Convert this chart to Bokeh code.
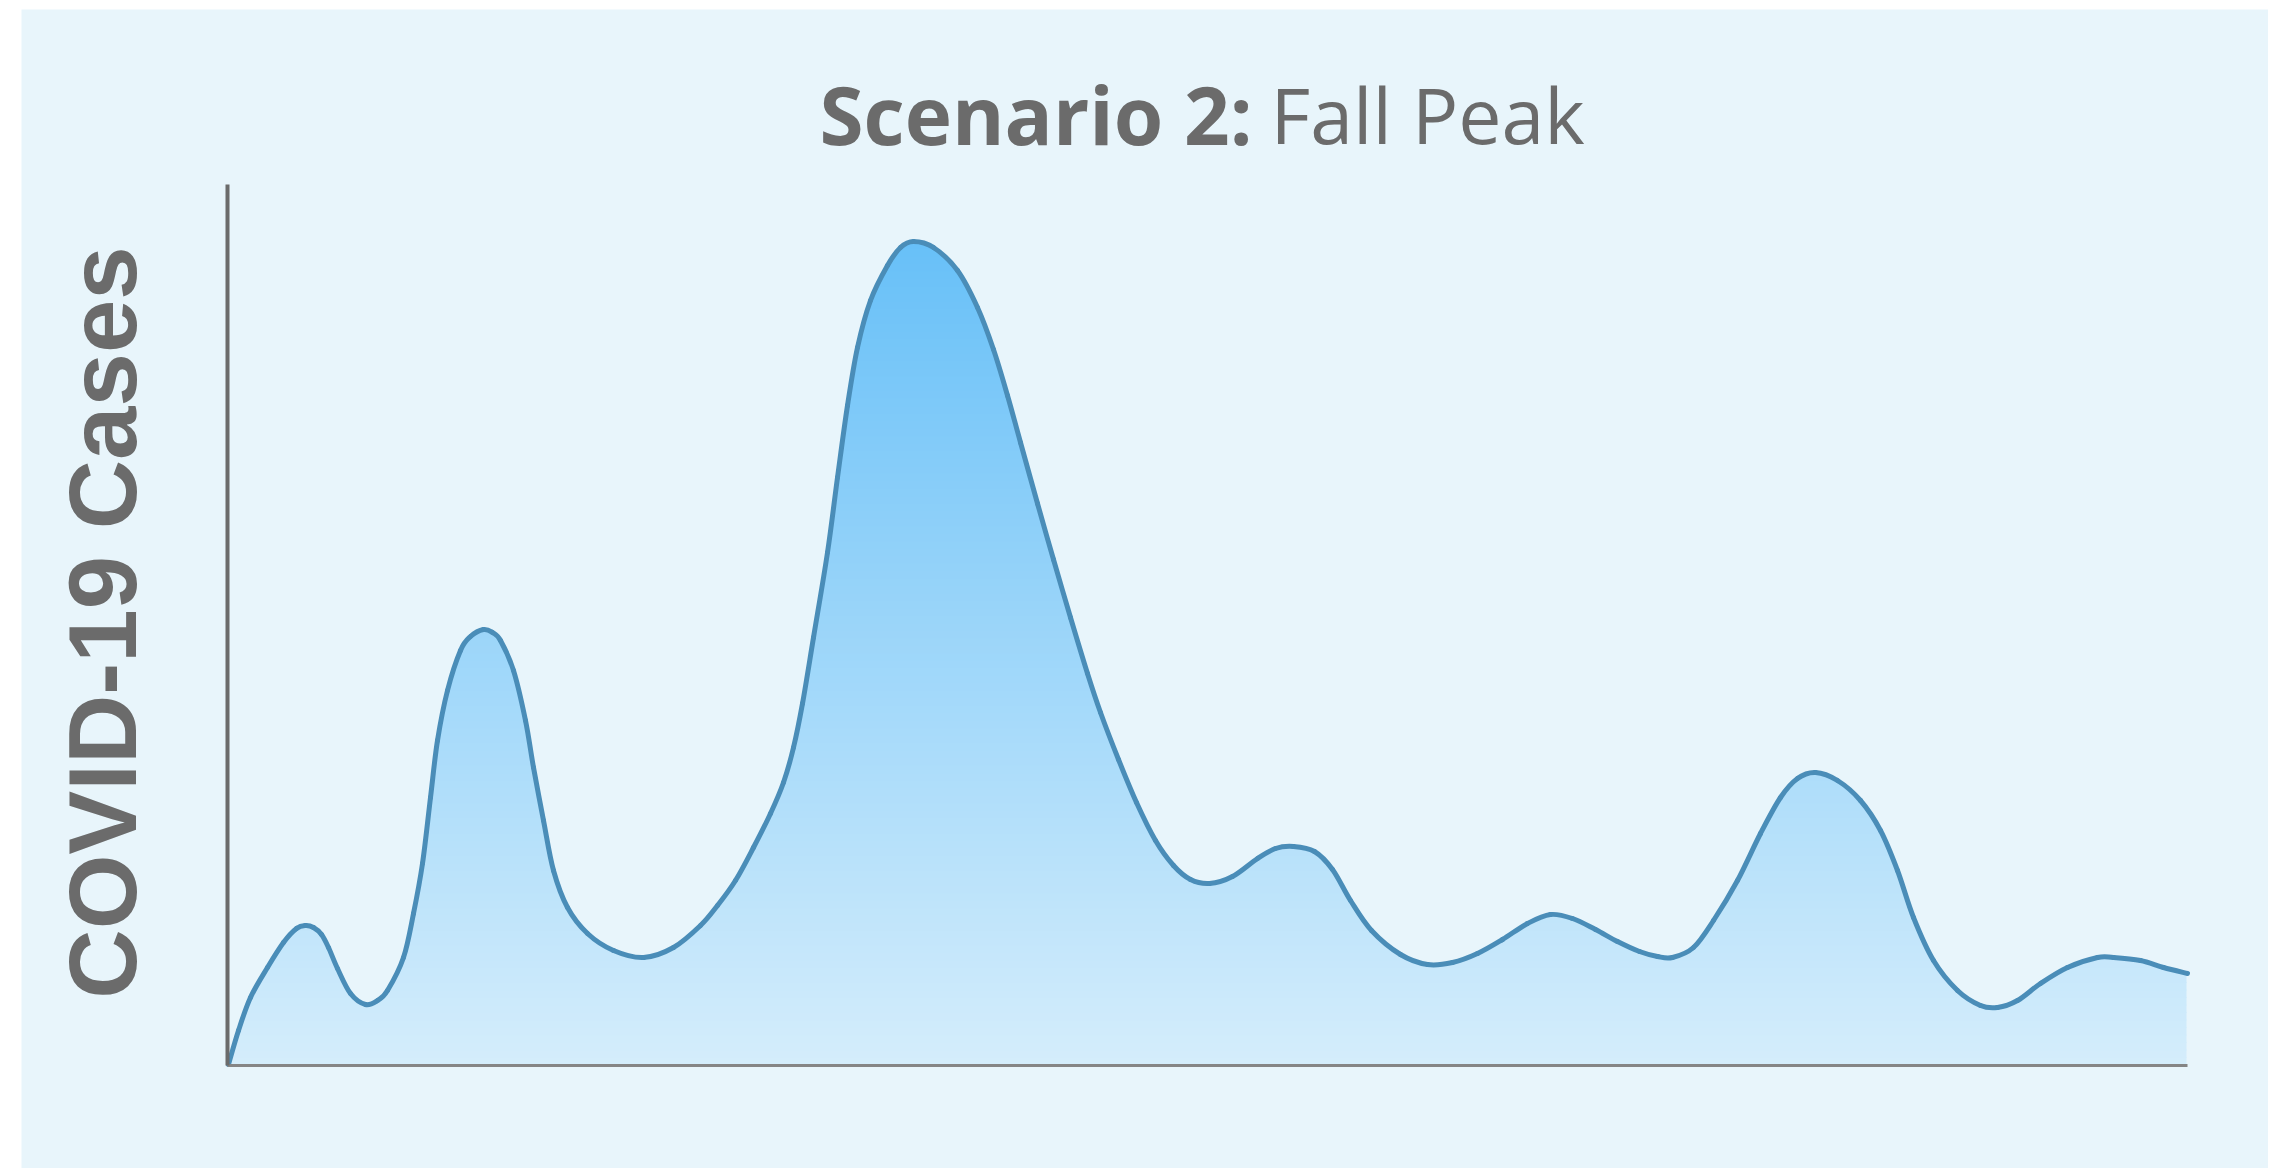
import numpy as np
from bokeh.plotting import figure
from bokeh.models import Range1d, LinearAxis, FixedTicker
from bokeh.core.properties import value
from bokeh.embed import file_html
from bokeh.resources import INLINE

# ---- data (time position, relative case level) ----
weeks = [1, 11, 23, 40, 56, 69, 78, 86, 94, 101, 110, 123, 138, 150, 160, 176,
         186, 195, 203, 210, 220, 233, 243, 256, 265, 273, 286, 298, 306, 316,
         326, 340, 360, 386, 416, 446, 473, 490, 508, 526, 543, 556, 566, 575,
         586, 600, 610, 620, 630, 643, 660, 673, 686, 706, 730, 750, 766, 780,
         793, 810, 826, 843, 860, 873, 891, 909, 928, 946, 963, 982, 1005, 1030,
         1048, 1066, 1087, 1105, 1123, 1144, 1173, 1200, 1225, 1250, 1275, 1300,
         1323, 1345, 1368, 1390, 1412, 1430, 1445, 1466, 1486, 1510, 1533, 1553,
         1570, 1588, 1610, 1633, 1653, 1670, 1686, 1706, 1730, 1753, 1770, 1790,
         1813, 1840, 1870, 1886, 1913, 1936, 1960]
cases = [1, 35, 68, 98, 123, 137, 140, 138, 131, 118, 97, 72, 61, 65, 75, 108,
         152, 202, 268, 325, 375, 415, 429, 436, 433, 425, 395, 345, 298, 245,
         195, 158, 132, 115, 108, 118, 140, 160, 185, 218, 252, 283, 318, 362,
         428, 513, 588, 660, 718, 765, 800, 818, 824, 818, 795, 758, 716, 670,
         623, 562, 506, 448, 392, 353, 306, 263, 225, 200, 186, 182, 189, 207,
         217, 219, 214, 196, 165, 135, 111, 101, 103, 112, 126, 142,
         151, 147, 136, 124, 114, 109, 108, 118, 145, 185, 232, 268,
         287, 293, 285, 265, 235, 195, 148, 105, 75, 60, 58, 65,
         82, 98, 108, 108, 105, 98, 92]

title_bold = "Scenario 2:"
title_regular = "Fall Peak"
y_label = "COVID-19 Cases"

# axis extents (time span, case scale top)
X_END = 1960
Y_END = 881

# ---- styling ----
BG = "#e8f5fb"
GREY = "#6b6b6b"
LINE = "#4a8db8"
TOP_RGB = np.array([104, 192, 248])
BOT_RGB = np.array([212, 237, 251])

FW, FH = 2247, 1159
p = figure(frame_width=FW, frame_height=FH, output_backend="svg", toolbar_location=None,
           x_range=Range1d(-206, FW - 206), y_range=Range1d(-(FH - 1056), 1056),
           x_axis_location=None, y_axis_location=None,
           min_border_left=0, min_border_right=0, min_border_top=0, min_border_bottom=0)
p.margin = (9, 0, 0, 21)
p.background_fill_color = BG
p.border_fill_color = BG
p.outline_line_color = None
p.grid.visible = False

yax = LinearAxis(fixed_location=0, bounds=(0, Y_END), ticker=FixedTicker(ticks=[]))
xax = LinearAxis(fixed_location=0, bounds=(0, X_END), ticker=FixedTicker(ticks=[]))
for ax in (xax, yax):
    ax.major_tick_line_color = None
    ax.minor_tick_line_color = None
    ax.major_tick_out = 0
    ax.major_tick_in = 0
    ax.minor_tick_out = 0
    ax.minor_tick_in = 0
    ax.major_label_standoff = 0
yax.axis_line_color = GREY
yax.axis_line_width = 4
xax.axis_line_color = "#858585"
xax.axis_line_width = 3
p.add_layout(yax, "left")
p.add_layout(xax, "below")

# vertical gradient under the curve: horizontal bands, then mask above the curve
peak = max(cases)
n = 110
levels = np.linspace(0, peak, n + 1)
t = (levels[:-1] + levels[1:]) / 2 / peak
cols = ["#%02x%02x%02x" % tuple(int(round(v)) for v in (BOT_RGB + (TOP_RGB - BOT_RGB) * f)) for f in t]
tops = levels[1:].copy()
tops[:-1] += 1.0  # small overlap so the bands leave no seams
p.quad(left=min(weeks), right=max(weeks) - 1, bottom=levels[:-1], top=tops,
       fill_color=cols, line_color=None)
p.varea(x=weeks, y1=cases, y2=Y_END, fill_color=BG)

# smooth stroke through the read points (Catmull-Rom -> cubic Bezier control points)
X = np.array(weeks, dtype=float)
Y = np.array(cases, dtype=float)
Xp = np.concatenate([[X[0]], X, [X[-1]]])
Yp = np.concatenate([[Y[0]], Y, [Y[-1]]])
x0, y0 = X[:-1], Y[:-1]
x1, y1 = X[1:], Y[1:]
cx0 = x0 + (Xp[2:-1] - Xp[:-3]) / 6.0
cy0 = y0 + (Yp[2:-1] - Yp[:-3]) / 6.0
cx1 = x1 - (Xp[3:] - Xp[1:-2]) / 6.0
cy1 = y1 - (Yp[3:] - Yp[1:-2]) / 6.0
p.bezier(x0=x0, y0=y0, x1=x1, y1=y1, cx0=cx0, cy0=cy0, cx1=cx1, cy1=cy1,
         line_color=LINE, line_width=5, line_cap="round")

# title (bold + regular parts)
p.text(x=[1025], y=[952], text=[title_bold], text_font=value("Open Sans"),
       text_font_style="bold", text_font_size="80px", text_color=GREY,
       text_align="right", text_baseline="alphabetic")
p.text(x=[1043], y=[951], text=[title_regular], text_font=value("Open Sans"),
       text_font_style="normal", text_font_size="77px", text_color=GREY,
       text_align="left", text_baseline="alphabetic")

# y label
p.text(x=[-125], y=[443], text=[y_label], angle=np.pi / 2,
       text_font=value("Liberation Sans"), text_font_style="bold",
       text_font_size="96px", text_color=GREY,
       text_align="center", text_baseline="alphabetic")

open("out.html", "w").write(file_html(p, INLINE))
